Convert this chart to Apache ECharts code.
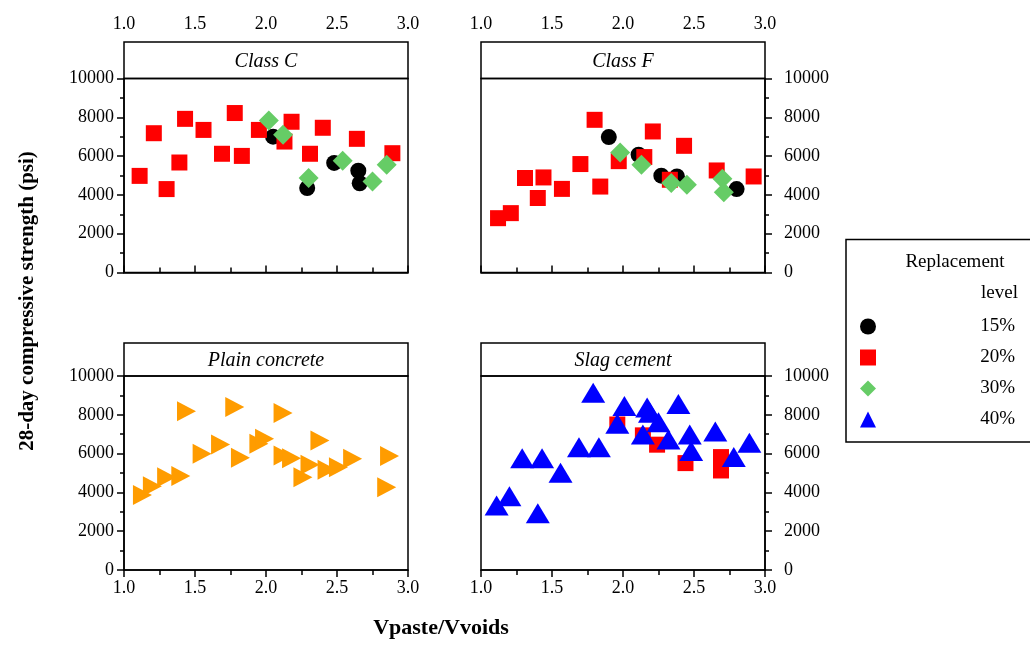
<!DOCTYPE html>
<html>
<head>
<meta charset="utf-8">
<script src="https://cdn.jsdelivr.net/npm/echarts@6/dist/echarts.min.js"></script>
<style>html,body{margin:0;padding:0;background:#fff}#c{width:1030px;height:646px}</style>
</head>
<body>
<div id="c"></div>
<script>
// ---- data ----
const panelTitles = ['Class C', 'Class F', 'Plain concrete', 'Slag cement'];
const xTicks = [1.0, 1.5, 2.0, 2.5, 3.0];
const yTicks = [0, 2000, 4000, 6000, 8000, 10000];
const legendNames = ['15%', '20%', '30%', '40%'];

const classC15 = [[2.05,7000],[2.29,4350],[2.48,5650],[2.65,5250],[2.66,4600]];
const classC20 = [[1.11,4980],[1.21,7180],[1.30,4300],[1.43,7920],[1.39,5670],[1.56,7350],[1.69,6120],[1.78,8220],[1.83,6010],[1.95,7350],[2.18,7770],[2.13,6750],[2.31,6120],[2.40,7460],[2.64,6890],[2.89,6150]];
const classC30 = [[2.02,7830],[2.12,7100],[2.30,4870],[2.54,5760],[2.75,4690],[2.85,5550]];

const classF15 = [[1.90,6980],[2.11,6070],[2.27,4990],[2.38,4950],[2.80,4300]];
const classF20 = [[1.12,2800],[1.21,3060],[1.31,4870],[1.40,3840],[1.44,4900],[1.57,4310],[1.70,5590],[1.80,7870],[1.84,4430],[1.97,5740],[2.15,5950],[2.21,7270],[2.33,4780],[2.43,6530],[2.66,5260],[2.92,4950]];
const classF30 = [[1.98,6190],[2.13,5550],[2.34,4610],[2.45,4520],[2.70,4830],[2.71,4140]];

const plain = [[1.13,3870],[1.20,4320],[1.30,4780],[1.40,4840],[1.44,8180],[1.55,5990],[1.68,6470],[1.78,8400],[1.82,5790],[1.95,6510],[1.99,6770],[2.12,8090],[2.12,5900],[2.18,5760],[2.26,4780],[2.31,5420],[2.38,6680],[2.43,5170],[2.51,5300],[2.61,5730],[2.85,4270],[2.87,5870]];

const slag20 = [[1.96,7500],[2.14,6940],[2.24,6460],[2.44,5510],[2.69,5820],[2.69,5130]];
const slag40 = [[1.11,3320],[1.20,3800],[1.40,2920],[1.29,5760],[1.43,5760],[1.56,5010],[1.69,6330],[1.83,6330],[1.79,9140],[1.96,7540],[2.01,8450],[2.14,6990],[2.17,8370],[2.19,8100],[2.25,7620],[2.32,6730],[2.39,8560],[2.47,6990],[2.48,6130],[2.65,7140],[2.78,5820],[2.89,6560]];

// ---- styles ----
const FONT = 'Liberation Serif';
const C_BLACK = '#000000', C_RED = '#ff0000', C_GREEN = '#66cc66', C_BLUE = '#0000ff', C_ORANGE = '#ff9c00';

const grids = [
  {left: 124, top: 78.5, width: 284, height: 194},
  {left: 481, top: 78.5, width: 284, height: 194},
  {left: 124, top: 376, width: 284, height: 194},
  {left: 481, top: 376, width: 284, height: 194}
];
const strips = [
  {x: 124, y: 42, w: 284, h: 36.5},
  {x: 481, y: 42, w: 284, h: 36.5},
  {x: 124, y: 343, w: 284, h: 33},
  {x: 481, y: 343, w: 284, h: 33}
];

const axisLineStyle = {color: '#000', width: 1.5};
function makeX(i) {
  const top = i < 2;
  return {
    type: 'value', gridIndex: i, min: xTicks[0], max: xTicks[xTicks.length - 1], interval: 0.5,
    position: top ? 'top' : 'bottom',
    offset: top ? 36.5 : 0,
    axisLine: {show: true, lineStyle: axisLineStyle},
    axisTick: {show: true, length: 7, lineStyle: {color: '#000', width: 1.5}},
    minorTick: {show: true, splitNumber: 2, length: 5, lineStyle: {color: '#000', width: 1.5}},
    splitLine: {show: false},
    axisLabel: {color: '#000', fontFamily: FONT, fontSize: 18, margin: 9,
      formatter: v => v.toFixed(1)}
  };
}
function makeY(i) {
  const right = (i % 2) === 1;
  return {
    type: 'value', gridIndex: i, min: yTicks[0], max: yTicks[yTicks.length - 1], interval: 2000,
    position: right ? 'right' : 'left',
    axisLine: {show: true, lineStyle: axisLineStyle},
    axisTick: {show: true, length: 7, lineStyle: {color: '#000', width: 1.5}},
    minorTick: {show: true, splitNumber: 2, length: 4, lineStyle: {color: '#000', width: 1.5}},
    splitLine: {show: false},
    axisLabel: {color: '#000', fontFamily: FONT, fontSize: 18, margin: right ? 19 : 10,
      formatter: v => String(v)}
  };
}

function sc(name, data, gi, symbol, size, color, rotate) {
  return {
    type: 'scatter', name: name, xAxisIndex: gi, yAxisIndex: gi, data: data,
    symbol: symbol, symbolSize: size, symbolRotate: rotate || 0,
    itemStyle: {color: color, opacity: 1}, emphasis: {disabled: true}, silent: true
  };
}

const series = [
  sc('15%', classC15, 0, 'circle', 16, C_BLACK),
  sc('20%', classC20, 0, 'rect', 16, C_RED),
  sc('30%', classC30, 0, 'diamond', 20, C_GREEN),
  sc('15%', classF15, 1, 'circle', 16, C_BLACK),
  sc('20%', classF20, 1, 'rect', 16, C_RED),
  sc('30%', classF30, 1, 'diamond', 20, C_GREEN),
  sc('Plain', plain, 2, 'triangle', [20, 19], C_ORANGE, -90),
  sc('20%', slag20, 3, 'rect', 16, C_RED),
  sc('40%', slag40, 3, 'triangle', [24, 20], C_BLUE)
];

const graphics = [];
strips.forEach((s, i) => {
  graphics.push({type: 'rect', shape: {x: s.x, y: s.y, width: s.w, height: s.h},
    style: {fill: '#fff', stroke: '#000', lineWidth: 1.5}, z: -1});
  graphics.push({type: 'text', x: s.x + s.w / 2, y: s.y + s.h / 2 + 1,
    style: {text: panelTitles[i], font: 'italic 20px "' + FONT + '"', fill: '#000',
      textAlign: 'center', textVerticalAlign: 'middle'}});
});
// legend box
graphics.push({type: 'rect', shape: {x: 846, y: 239.5, width: 200, height: 202.5},
  style: {fill: 'none', stroke: '#000', lineWidth: 1.5}});
graphics.push({type: 'text', x: 955, y: 262,
  style: {text: 'Replacement', font: '19px "' + FONT + '"', fill: '#000', textAlign: 'center', textVerticalAlign: 'middle'}});
graphics.push({type: 'text', x: 1018, y: 293,
  style: {text: 'level', font: '19px "' + FONT + '"', fill: '#000', textAlign: 'right', textVerticalAlign: 'middle'}});
// axis titles
graphics.push({type: 'text', x: 28, y: 301, rotation: Math.PI / 2,
  style: {text: '28-day compressive strength (psi)', font: 'bold 21px "' + FONT + '"', fill: '#000',
    textAlign: 'center', textVerticalAlign: 'middle'}});
graphics.push({type: 'text', x: 441, y: 628,
  style: {text: 'Vpaste/Vvoids', font: 'bold 22px "' + FONT + '"', fill: '#000',
    textAlign: 'center', textVerticalAlign: 'middle'}});

const chart = echarts.init(document.getElementById('c'), null, {renderer: 'canvas'});
chart.setOption({
  animation: false,
  backgroundColor: '#fff',
  grid: grids.map(g => Object.assign({show: true, borderColor: '#000', borderWidth: 1.5, backgroundColor: 'transparent'}, g)),
  xAxis: grids.map((g, i) => makeX(i)),
  yAxis: grids.map((g, i) => makeY(i)),
  legend: {
    data: legendNames, orient: 'vertical', left: 860, top: 317, padding: 0,
    itemWidth: 16, itemHeight: 16, itemGap: 12, selectedMode: false,
    formatter: n => '{a|' + n + '}',
    textStyle: {color: '#000', fontFamily: FONT, fontSize: 19,
      rich: {a: {width: 134, align: 'right', fontFamily: FONT, fontSize: 19, color: '#000', lineHeight: 19}}}
  },
  series: series,
  graphic: graphics
});
</script>
</body>
</html>
